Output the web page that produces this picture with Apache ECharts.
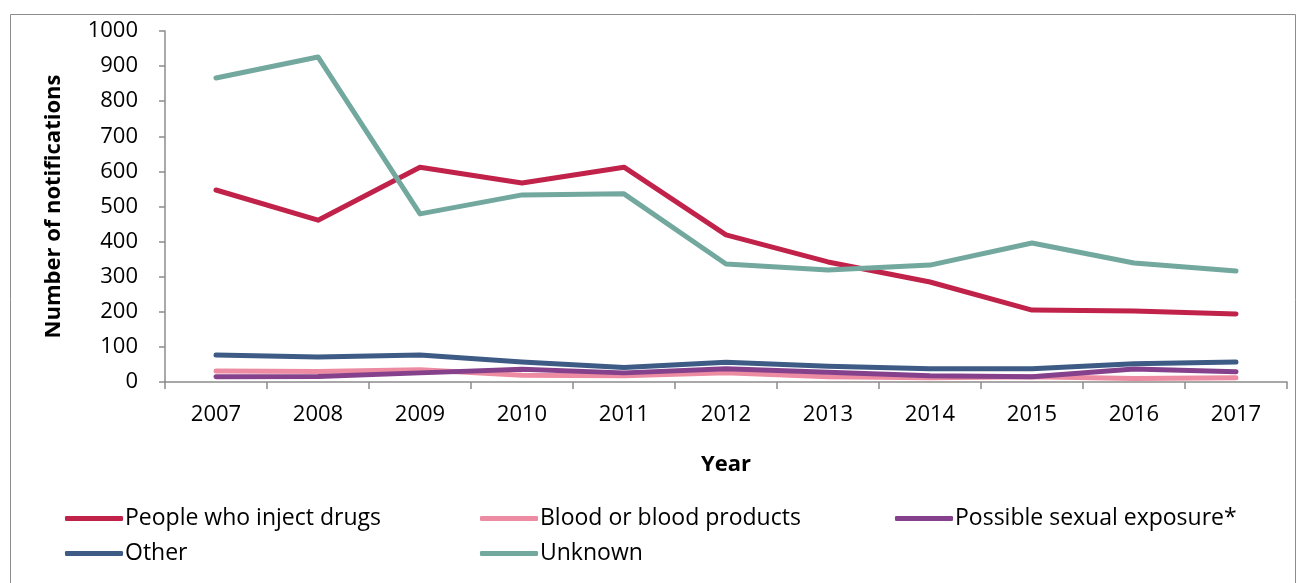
<!DOCTYPE html>
<html><head><meta charset="utf-8">
<script src="https://cdn.jsdelivr.net/npm/echarts@6/dist/echarts.min.js"></script>
<style>html,body{margin:0;padding:0;background:#fff}#c{width:1303px;height:583px}</style>
</head><body><div id="c"></div>
<script>
const years = ['2007','2008','2009','2010','2011','2012','2013','2014','2015','2016','2017'];
const pwid = [547, 461, 612, 567, 612, 419, 342, 285, 205, 202, 194];
const blood = [31, 30, 35, 19, 18, 26, 15, 12, 15, 10, 12];
const sexual = [15, 16, 26, 36, 26, 38, 28, 18, 15, 37, 29];
const other = [77, 71, 77, 57, 41, 56, 45, 38, 38, 52, 57];
const unknown = [866, 926, 479, 533, 536, 336, 319, 333, 396, 339, 316];
const seriesNames = ['People who inject drugs','Blood or blood products','Possible sexual exposure*','Other','Unknown'];
const colors = ['#C0224A','#EC8BA1','#85418C','#3E5B85','#72A89E'];
const values = [pwid, blood, sexual, other, unknown];
const font = "'Open Sans', 'Noto Sans', sans-serif";
const fs = 22;

const chart = echarts.init(document.getElementById('c'), null, {renderer:'canvas'});
const legendPos = [[65,507],[480,507],[895,507],[65,542],[480,542]];
chart.setOption({
  animation:false,
  graphic:[{type:'rect', shape:{x:10.5,y:14.5,width:1285,height:600}, style:{fill:'none',stroke:'#8c8c8c',lineWidth:1}, silent:true, z:-1}],
  grid:{left:165,right:16,top:31,bottom:201},
  legend: legendPos.map((p,i)=>({
    data:[seriesNames[i]], left:p[0], top:p[1], itemWidth:58, itemHeight:5, itemGap:0, padding:0,
    icon:'roundRect',
    textStyle:{fontFamily:font,fontSize:23,color:'#000',padding:[0,0,0,-3]}
  })),
  xAxis:{type:'category', data:years, boundaryGap:true,
    axisLine:{lineStyle:{color:'#8c8c8c',width:1.5}},
    axisTick:{show:true,length:7,lineStyle:{color:'#8c8c8c',width:1.5},alignWithLabel:false},
    axisLabel:{fontFamily:font,fontSize:fs,color:'#000',margin:22},
    name:'Year', nameLocation:'middle', nameGap:72,
    nameTextStyle:{fontFamily:font,fontSize:fs,fontWeight:'bold',color:'#000'}
  },
  yAxis:{type:'value', min:0, max:1000, interval:100,
    splitLine:{show:false},
    axisLine:{show:true,lineStyle:{color:'#8c8c8c',width:1.5}},
    axisTick:{show:true,length:6,lineStyle:{color:'#8c8c8c',width:1.5}},
    axisLabel:{fontFamily:font,fontSize:fs,color:'#000',margin:27,formatter:v=>String(v)},
    name:'Number of notifications', nameLocation:'middle', nameGap:100, nameRotate:90,
    nameTextStyle:{fontFamily:font,fontSize:fs,fontWeight:'bold',color:'#000'}
  },
  series: seriesNames.map((n,i)=>({
    name:n, type:'line', data:values[i], showSymbol:false, symbol:'none',
    lineStyle:{color:colors[i],width:5,cap:'round',join:'round'}, itemStyle:{color:colors[i]}
  }))
});
</script></body></html>
